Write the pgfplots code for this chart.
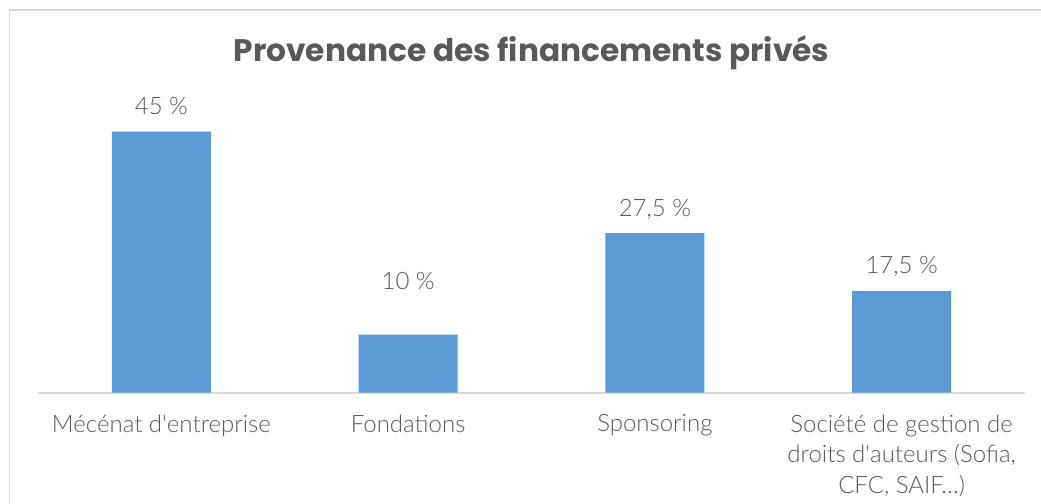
\documentclass[border=0pt]{standalone}
\usepackage{pgfplots}
\usepackage{pgfplotstable}
\pgfplotsset{compat=1.18}
\usepackage{fontspec}
\setmainfont{Lato Light}
\newfontfamily\titlef{Poppins}
\definecolor{barblue}{HTML}{5B9BD5}
\definecolor{txt}{HTML}{595959}
\definecolor{framec}{HTML}{D9D9D9}

\pgfplotstableread{
x y off
0 45 13
1 10 27
2 27.5 12
3 17.5 12.5
}\datatab

\begin{document}
\begin{tikzpicture}
\path[use as bounding box] (0,0) rectangle (520.5pt,252pt);
\draw[framec, line width=0.8pt] (4.75pt,0) -- (4.75pt,247pt) -- (520.5pt,247pt);
\begin{axis}[
  at={(19pt,55.65pt)}, anchor=south west,
  scale only axis, width=493.5pt, height=145pt,
  xmin=-0.5, xmax=3.5, ymin=0, ymax=50,
  axis y line=none, axis x line*=bottom,
  x axis line style={draw=framec, line width=1pt},
  xtick={0,1,2,3},
  xticklabels={{Mécénat d\textquotesingle entreprise},{Fondations},{Sponsoring},{Société de gestion de\\droits d\textquotesingle auteurs (Sofia,\\CFC, SAIF…)}},
  major tick length=0pt,
  xticklabel style={font=\fontsize{12}{15.2}\selectfont, text=txt, align=center, anchor=north, yshift=-7.5pt},
  ybar, bar width=49.5pt,
  clip=false,
  title={Provenance des financements privés},
  title style={at={(0.5,1.13)}, anchor=center, font=\titlef\bfseries\fontsize{15.6}{18}\selectfont, text=txt},
  /pgf/number format/assume math mode=true,
  /pgf/number format/use comma,
  nodes near coords={\pgfmathprintnumber{\pgfplotspointmeta}~\%},
  visualization depends on={\thisrow{off} \as \laboff},
  every node near coord/.append style={anchor=center, yshift=\laboff pt, font=\fontsize{12}{14}\selectfont, text=txt},
]
\addplot[fill=barblue, draw=none] table[x=x, y=y] {\datatab};
\end{axis}
\end{tikzpicture}
\end{document}
